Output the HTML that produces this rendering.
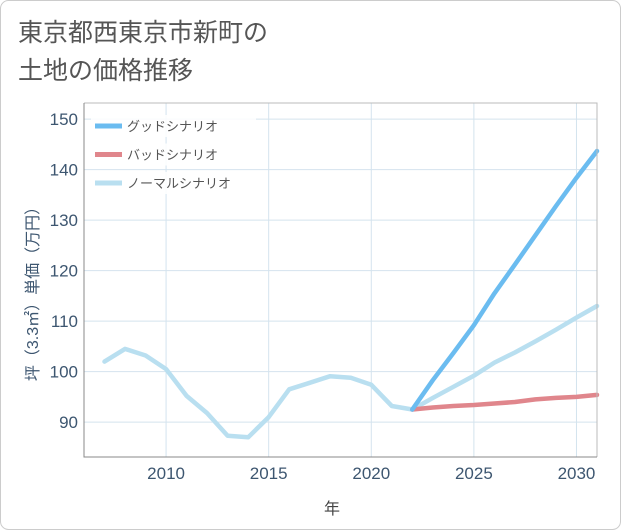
<!DOCTYPE html>
<html><head><meta charset="utf-8"><style>
body{margin:0;background:#fff}
svg{display:block;font-family:"Liberation Sans","Noto Sans CJK JP",sans-serif}
</style></head><body>
<svg width="621" height="530" xmlns="http://www.w3.org/2000/svg">
<rect x="0.5" y="0.5" width="620" height="529" rx="8" fill="#fff" stroke="#ccc"/>
<text x="18" y="41" font-size="25" fill="#555">東京都西東京市新町の</text>
<text x="18" y="79" font-size="25" fill="#555">土地の価格推移</text>
<g id="grid"></g>
<g id="series"></g>
<g id="axes"></g>
<g id="legend"></g>
<text x="332" y="514" font-size="16" fill="#444" text-anchor="middle">年</text>
<text transform="translate(38,290) rotate(-90)" font-size="16" fill="#3d5670" text-anchor="middle">坪（3.3㎡）単価（万円）</text>
</svg>
<script>
const years=[2007,2008,2009,2010,2011,2012,2013,2014,2015,2016,2017,2018,2019,2020,2021,2022,2023,2024,2025,2026,2027,2028,2029,2030,2031];
const normalVals=[102,104.5,103.2,100.5,95.2,91.8,87.3,87,91,96.5,97.8,99.1,98.8,97.4,93.2,92.5,94.8,97,99.2,101.8,103.8,106,108.3,110.7,113];
const futureYears=[2022,2023,2024,2025,2026,2027,2028,2029,2030,2031];
const goodVals=[92.5,98.3,103.7,109.2,115.5,121.2,127,132.8,138.4,143.7];
const badVals=[92.5,92.9,93.2,93.4,93.7,94,94.5,94.8,95,95.4];
const xTicks=[2010,2015,2020,2025,2030];
const yTicks=[90,100,110,120,130,140,150];
const legendLabels=["グッドシナリオ","バッドシナリオ","ノーマルシナリオ"];
const legendColors=["#6bbcf0","#e0868c","#b9dff0"];

const L=84,R=597,T=103,B=457,X0=2006,X1=2031,Y0=83.1,Y1=153.2;
const xs=v=>L+(v-X0)/(X1-X0)*(R-L);
const ys=v=>B-(v-Y0)/(Y1-Y0)*(B-T);
const NS="http://www.w3.org/2000/svg";
function mk(tag,attrs,parent){const e=document.createElementNS(NS,tag);for(const k in attrs)e.setAttribute(k,attrs[k]);parent.appendChild(e);return e;}
const grid=document.getElementById('grid'),axes=document.getElementById('axes'),ser=document.getElementById('series'),leg=document.getElementById('legend');
xTicks.forEach(t=>{
 const l=mk('line',{x1:xs(t),x2:xs(t),y1:T,y2:B,stroke:'#d4e3ee','stroke-width':1},grid);
 
 
 const tx=mk('text',{x:xs(t),y:B+22,'font-size':17,fill:'#3d5670','text-anchor':'middle'},axes);
 tx.textContent=t;
 
 
});
yTicks.forEach(t=>{
 const l=mk('line',{x1:L,x2:R,y1:ys(t),y2:ys(t),stroke:'#d4e3ee','stroke-width':1},grid);
 
 
 const tx=mk('text',{x:L-6,y:ys(t)+6,'font-size':17,fill:'#3d5670','text-anchor':'end'},axes);
 tx.textContent=t;
 
 
});
const frame=mk('path',{d:`M${L},${T}H${R}V${B}`,fill:'none',stroke:'#bbb','stroke-width':1},axes);


const ax=mk('path',{d:`M${L},${T}V${B}H${R}`,fill:'none',stroke:'#888','stroke-width':1},axes);


function line(xv,yv,color,name){
 const d=xv.map((x,i)=>(i?'L':'M')+xs(x).toFixed(1)+','+ys(yv[i]).toFixed(1)).join('');
 const p=mk('path',{d:d,fill:'none',stroke:color,'stroke-width':4.5,'stroke-linejoin':'round','stroke-linecap':'round'},ser);
 
 
}
line(years,normalVals,legendColors[2],'normal-scenario-line');
line(futureYears,badVals,legendColors[1],'bad-scenario-line');
line(futureYears,goodVals,legendColors[0],'good-scenario-line');
legendLabels.forEach((lab,i)=>{
 const y=126+i*28.5;
 const g=mk('g',{},leg);
 
 
 mk('rect',{x:91,y:y-11,width:165,height:22,fill:'#fff','fill-opacity':0.85},g);
 mk('line',{x1:95,x2:122,y1:y,y2:y,stroke:legendColors[i],'stroke-width':5},g);
 const t=mk('text',{x:127,y:y+5,'font-size':13,fill:'#555'},g);
 t.textContent=lab;
});
</script>
</body></html>
